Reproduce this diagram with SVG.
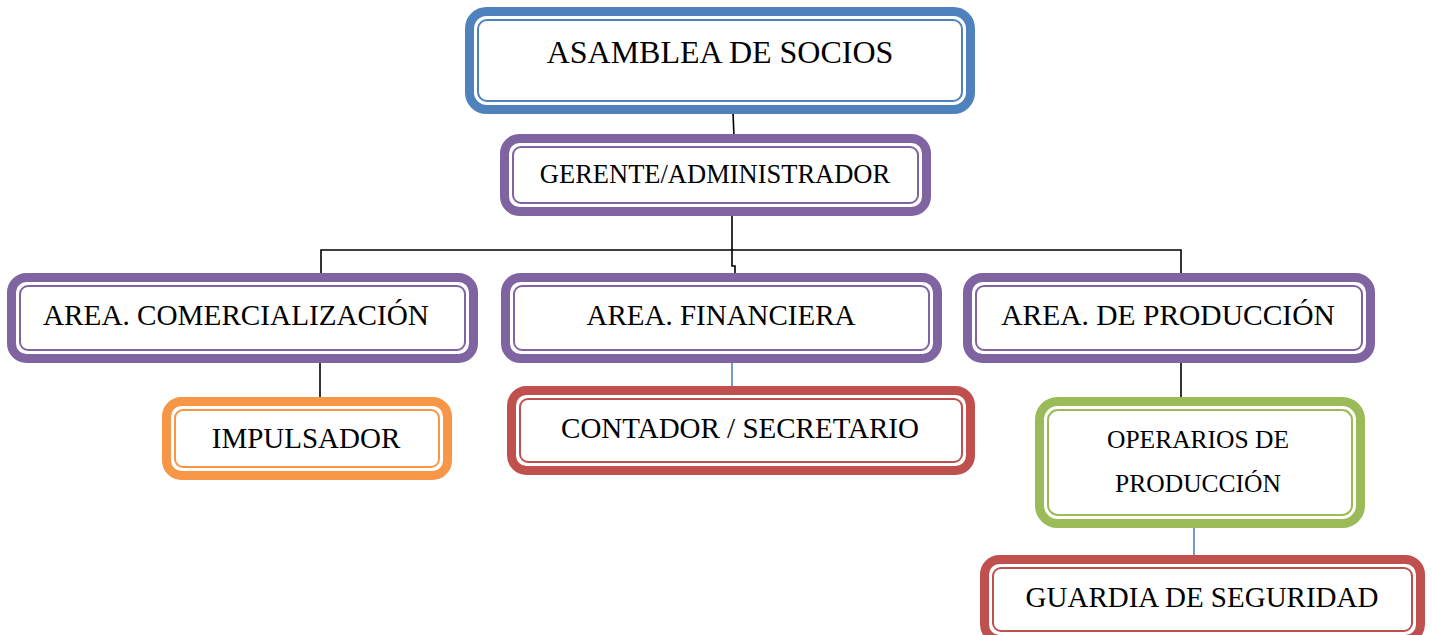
<svg xmlns="http://www.w3.org/2000/svg" width="1432" height="635" viewBox="0 0 1432 635">
<style>
.o{fill:#fff;stroke-width:9}
.i{fill:none;stroke-width:2}
.blue{stroke:#4f81bd}
.purple{stroke:#8064a2}
.orange{stroke:#f79646}
.red{stroke:#c0504d}
.green{stroke:#9bbb59}
text{font-family:"Liberation Serif","Times New Roman",serif;fill:#000;text-anchor:middle}
.k{stroke:#000;stroke-width:1.6;fill:none}
.b{stroke:#4f81bd;stroke-width:1.6;fill:none}
</style>
<rect width="1432" height="635" fill="#fff"/>
<g id="connectors">
<line class="k" x1="733" y1="112" x2="734" y2="137"/>
<path class="k" d="M732 212 V266 H735 V276"/>
<path class="k" d="M321 276 V250 H1181 V276"/>
<line class="k" x1="320" y1="360" x2="320" y2="400"/>
<line class="k" x1="1181" y1="360" x2="1181" y2="400"/>
<line class="b" x1="732" y1="360" x2="732" y2="389"/>
<line class="b" x1="1194" y1="525" x2="1194" y2="558"/>
</g>
<g id="asamblea">
<rect class="o blue" x="469.5" y="11.5" width="501" height="98" rx="17"/>
<rect class="i blue" x="478" y="20" width="484" height="81" rx="9"/>
<text x="720" y="63" font-size="32">ASAMBLEA DE SOCIOS</text>
</g>
<g id="gerente">
<rect class="o purple" x="504.5" y="138.5" width="422" height="73" rx="15"/>
<rect class="i purple" x="513" y="147" width="405" height="56" rx="8"/>
<text x="715" y="183" font-size="26.5">GERENTE/ADMINISTRADOR</text>
</g>
<g id="comercial">
<rect class="o purple" x="11.5" y="277.5" width="462" height="81" rx="15"/>
<rect class="i purple" x="20" y="286" width="445" height="64" rx="8"/>
<text x="236" y="325" font-size="29.2">AREA. COMERCIALIZACIÓN</text>
</g>
<g id="financiera">
<rect class="o purple" x="505.5" y="277.5" width="432" height="81" rx="15"/>
<rect class="i purple" x="514" y="286" width="415" height="64" rx="8"/>
<text x="721" y="325" font-size="29">AREA. FINANCIERA</text>
</g>
<g id="produccion">
<rect class="o purple" x="967.5" y="277.5" width="403" height="81" rx="15"/>
<rect class="i purple" x="976" y="286" width="386" height="64" rx="8"/>
<text x="1168" y="325" font-size="29.5">AREA. DE PRODUCCIÓN</text>
</g>
<g id="impulsador">
<rect class="o orange" x="166.5" y="401.5" width="281" height="74" rx="15"/>
<rect class="i orange" x="175" y="410" width="264" height="57" rx="8"/>
<text x="306" y="448" font-size="29">IMPULSADOR</text>
</g>
<g id="contador">
<rect class="o red" x="511.5" y="390.5" width="459" height="80" rx="15"/>
<rect class="i red" x="520" y="399" width="442" height="63" rx="8"/>
<text x="740" y="438" font-size="29">CONTADOR / SECRETARIO</text>
</g>
<g id="operarios">
<rect class="o green" x="1039.5" y="401.5" width="321" height="122" rx="18"/>
<rect class="i green" x="1048" y="410" width="304" height="105" rx="10"/>
<text x="1198" y="448" font-size="25.5">OPERARIOS DE</text>
<text x="1198" y="492" font-size="25.5">PRODUCCIÓN</text>
</g>
<g id="guardia">
<rect class="o red" x="984.5" y="559.5" width="436" height="80" rx="15"/>
<rect class="i red" x="993" y="568" width="419" height="63" rx="8"/>
<text x="1202" y="607" font-size="29">GUARDIA DE SEGURIDAD</text>
</g>
</svg>
